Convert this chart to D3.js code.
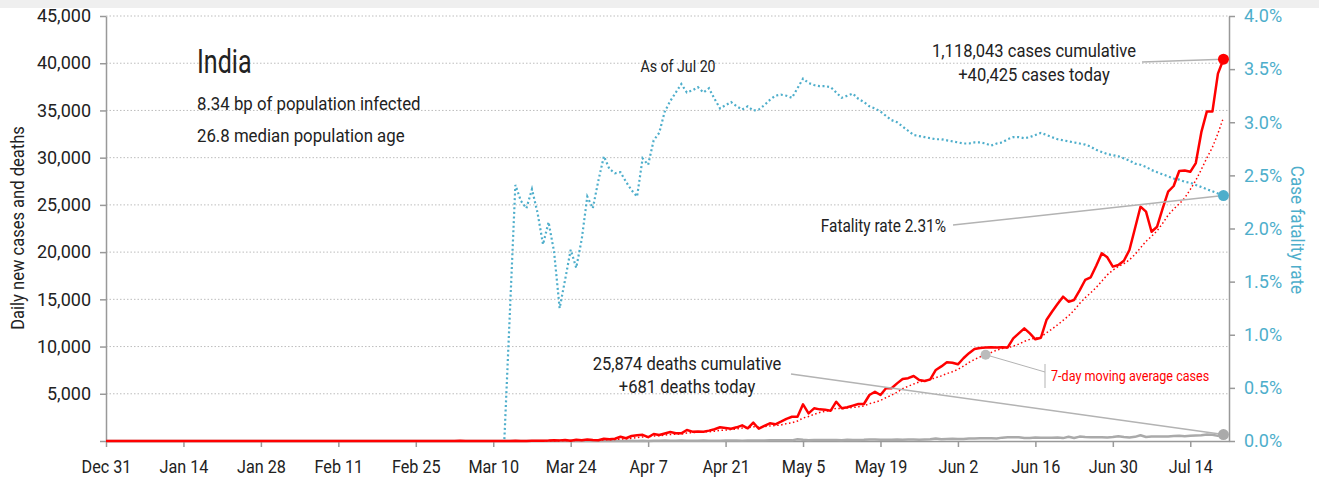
<!DOCTYPE html>
<html>
<head>
<meta charset="utf-8">
<script src="https://cdn.jsdelivr.net/npm/d3@7"></script>
<style>
  html, body { margin: 0; padding: 0; background: #fff; }
  svg text { font-family: Roboto, "Liberation Sans", sans-serif; }
</style>
</head>
<body>
<svg id="chart" width="1319" height="480"></svg>
<script>
// ---- data: India, daily series starting Dec 31, 2019 ----
const startDate = "2019-12-31";

// daily new confirmed cases
const cases = [
  0,0,0,0,0,0,0,0,0,0, 0,0,0,0,0,0,0,0,0,0, 0,0,0,0,0,0,0,0,0,0,
  1,0,0,1,1,0,0,0,0,0,
  0,0,0,0,0,0,0,0,0,0,
  0,0,0,0,0,0,0,0,0,0,
  0,0,2,1,22,2,1,3,5,4,
  1,13,6,9,20,11,6,23,14,38,
  50,86,66,103,37,121,70,160,100,80,
  230,190,240,450,290,530,600,650,400,740,
  640,800,950,830,810,1160,990,1000,990,1100,
  1250,1450,1380,1300,1450,1660,1340,1940,1300,1600,
  1870,1770,2050,2350,2570,2570,3880,2930,3460,3350,
  3300,3210,4160,3460,3570,3750,3920,3920,4870,5220,
  4870,5580,5580,6100,6560,6650,6880,6460,6350,6530,
  7520,7900,8330,8290,8120,8760,9300,9740,9850,9890,
  9920,9900,9930,9910,10870,11400,11930,11400,10770,10940,
  12810,13690,14500,15280,14750,14930,15950,17050,17330,18550,
  19870,19450,18460,18640,19090,20220,22500,24810,24280,22160,
  22690,24600,26400,27000,28590,28650,28500,29430,32700,34900,
  34880,38900,40425
];

// daily new deaths
const deaths = [
  0,0,0,0,0,0,0,0,0,0, 0,0,0,0,0,0,0,0,0,0, 0,0,0,0,0,0,0,0,0,0,
  0,0,0,0,0,0,0,0,0,0, 0,0,0,0,0,0,0,0,0,0, 0,0,0,0,0,0,0,0,0,0,
  0,0,0,0,0,0,0,0,0,0,
  0,0,1,1,0,0,0,1,0,1,
  0,1,3,2,1,1,3,4,2,6,
  3,3,3,12,12,21,13,31,12,24,
  20,40,34,35,42,27,39,20,41,35,
  36,39,41,50,49,37,56,46,59,63,
  70,73,75,72,68,193,126,89,100,102,
  115,102,111,87,135,102,100,120,153,154,
  136,140,134,147,137,149,154,145,170,175,
  269,193,224,230,203,217,259,273,286,294,
  287,266,357,394,397,386,311,325,380,350,
  341,336,375,306,445,312,465,418,407,384,
  410,380,418,507,434,379,442,613,425,467,
  482,487,475,519,551,500,553,582,606,687,
  671,543,681
];

// case fatality rate, percent
const fatalityRate = [
  0,0,0,0,0,0,0,0,0,0, 0,0,0,0,0,0,0,0,0,0, 0,0,0,0,0,0,0,0,0,0,
  0,0,0,0,0,0,0,0,0,0, 0,0,0,0,0,0,0,0,0,0, 0,0,0,0,0,0,0,0,0,0,
  0,0,0,0,0,0,0,0,0,0,
  0,0,0,1.20,2.41,2.26,2.19,2.37,2.15,1.85,
  2.06,1.78,1.25,1.52,1.80,1.63,1.90,2.30,2.19,2.45,
  2.68,2.56,2.52,2.53,2.44,2.36,2.30,2.66,2.60,2.83,
  2.90,3.10,3.20,3.28,3.36,3.28,3.30,3.33,3.28,3.32,
  3.22,3.13,3.16,3.19,3.15,3.12,3.15,3.11,3.12,3.16,
  3.21,3.25,3.26,3.25,3.23,3.32,3.41,3.37,3.35,3.34,
  3.34,3.33,3.28,3.23,3.25,3.27,3.22,3.19,3.15,3.13,
  3.10,3.06,3.02,3.00,2.96,2.92,2.88,2.87,2.86,2.85,
  2.84,2.84,2.83,2.82,2.81,2.80,2.80,2.81,2.81,2.80,
  2.78,2.80,2.81,2.84,2.86,2.86,2.85,2.86,2.88,2.90,
  2.88,2.86,2.84,2.83,2.82,2.81,2.80,2.79,2.77,2.74,
  2.72,2.70,2.69,2.68,2.66,2.64,2.61,2.60,2.58,2.55,
  2.53,2.51,2.49,2.47,2.46,2.44,2.43,2.41,2.39,2.37,
  2.35,2.33,2.31
];

const casesCumulative = 1118043;
const deathsCumulative = 25874;

const xTickDates = ["2019-12-31","2020-01-14","2020-01-28","2020-02-11","2020-02-25",
  "2020-03-10","2020-03-24","2020-04-07","2020-04-21","2020-05-05","2020-05-19",
  "2020-06-02","2020-06-16","2020-06-30","2020-07-14"];
const caseTicks = [0,5000,10000,15000,20000,25000,30000,35000,40000,45000];
const rateTicks = [0,0.5,1,1.5,2,2.5,3,3.5,4];

// ---- colours ----
const RED = "#ff0000", BLUE = "#4eaecb", GREY = "#aaaaaa", AXIS = "#999999", INK = "#222222";

const svg = d3.select("#chart");
const parse = d3.utcParse("%Y-%m-%d");
const t0 = parse(startDate);
const dates = cases.map((_, i) => d3.utcDay.offset(t0, i));
const last = cases.length - 1;

// trailing 7-day mean of daily cases
const avg7 = cases.map((_, i) => d3.mean(cases.slice(Math.max(0, i - 6), i + 1)));

const x = d3.scaleUtc().domain([t0, d3.utcDay.offset(t0, cases.length)]).range([106, 1229]);
const yC = d3.scaleLinear().domain([0, 45000]).range([441, 16]);
const yR = d3.scaleLinear().domain([0, 4]).range([441, 16]);

// top band
svg.append("rect").attr("x", 0).attr("y", 0).attr("width", 1319).attr("height", 8).attr("fill", "#efefef");

// gridlines
svg.append("g").selectAll("line").data(caseTicks.filter(d => d > 0)).join("line")
  .attr("x1", 106).attr("x2", 1229)
  .attr("y1", d => yC(d)).attr("y2", d => yC(d))
  .attr("stroke", "#bdbdbd").attr("stroke-width", 1).attr("stroke-dasharray", "1.5,2");

// axes
function styleAxis(g, color, sx) {
  g.select(".domain").attr("stroke", AXIS).attr("stroke-width", 1.5);
  g.selectAll(".tick line").attr("stroke", AXIS).attr("stroke-width", 1.5);
  g.selectAll(".tick text").attr("fill", color).attr("font-size", 18)
    .attr("font-family", "Roboto, 'Liberation Sans', sans-serif")
    .attr("transform", `scale(${sx},1)`);
}
const fmt = d3.format(",");
svg.append("g").attr("transform", "translate(106,0)")
  .call(d3.axisLeft(yC).tickValues(caseTicks).tickSize(6).tickSizeOuter(0).tickPadding(9)
    .tickFormat(d => d === 0 ? "" : fmt(d)))
  .call(g => styleAxis(g, INK, 1));
svg.append("g").attr("transform", "translate(1229,0)")
  .call(d3.axisRight(yR).tickValues(rateTicks).tickSize(6).tickSizeOuter(0).tickPadding(9)
    .tickFormat(d => d.toFixed(1) + "%"))
  .call(g => styleAxis(g, BLUE, 1));
const fmtDate = d3.utcFormat("%b %-d");
svg.append("g").attr("transform", "translate(0,441)")
  .call(d3.axisBottom(x).tickValues(xTickDates.map(parse)).tickSize(6).tickSizeOuter(0).tickPadding(13)
    .tickFormat(fmtDate))
  .call(g => styleAxis(g, INK, 0.9));

// series
const lineFor = (arr, y) => d3.line().x((d, i) => x(dates[i])).y(d => y(d))(arr);

svg.append("path").attr("d", lineFor(fatalityRate, yR))
  .attr("fill", "none").attr("stroke", BLUE).attr("stroke-width", 2.2)
  .attr("stroke-dasharray", "2,2.6");
svg.append("path").attr("d", lineFor(deaths, yC))
  .attr("fill", "none").attr("stroke", GREY).attr("stroke-width", 2.5).attr("stroke-linejoin", "round");
svg.append("path").attr("d", lineFor(avg7, yC))
  .attr("fill", "none").attr("stroke", RED).attr("stroke-width", 1.5)
  .attr("stroke-dasharray", "1.5,2.5");
svg.append("path").attr("d", lineFor(cases, yC))
  .attr("fill", "none").attr("stroke", RED).attr("stroke-width", 2.5).attr("stroke-linejoin", "round");

// text helper
function label(px, py, str, opt = {}) {
  const t = svg.append("text")
    .attr("transform", `translate(${px},${py}) rotate(${opt.rotate || 0}) scale(${opt.sx || 1},1)`)
    .attr("text-anchor", opt.anchor || "start")
    .attr("font-size", opt.size || 18)
    .attr("fill", opt.fill || INK)
    .text(str);
  return t;
}

// leader lines and end markers
const xe = x(dates[last]);
const leader = (x1, y1, x2, y2, w = 1.5) => svg.append("line")
  .attr("x1", x1).attr("y1", y1).attr("x2", x2).attr("y2", y2)
  .attr("stroke", "#b3b3b3").attr("stroke-width", w);

leader(1142, 62, xe, yC(cases[last]));
leader(953, 225, xe, yR(fatalityRate[last]));
leader(791, 374, xe, yC(deaths[last]));

const maIdx = 159;
const maX = x(dates[maIdx]), maY = yC(avg7[maIdx]);
leader(maX, maY, 1045, 372, 1);
leader(1045, 364, 1045, 388, 1);

svg.append("circle").attr("cx", maX).attr("cy", maY).attr("r", 5).attr("fill", "#bbbbbb");
svg.append("circle").attr("cx", xe).attr("cy", yC(cases[last])).attr("r", 5.5).attr("fill", RED);
svg.append("circle").attr("cx", xe).attr("cy", yR(fatalityRate[last])).attr("r", 5.5).attr("fill", BLUE);
svg.append("circle").attr("cx", xe).attr("cy", yC(deaths[last])).attr("r", 5.5).attr("fill", GREY);

// titles and notes
label(197, 73, "India", { size: 33, sx: 0.76 });
label(197, 110, "8.34 bp of population infected", { size: 17.5, sx: 0.96 });
label(197, 142, "26.8 median population age", { size: 17.5, sx: 0.96 });
label(678, 72, "As of " + fmtDate(dates[last]), { size: 16.5, sx: 0.86, anchor: "middle" });

label(1034, 57, fmt(casesCumulative) + " cases cumulative", { size: 18, sx: 0.92, anchor: "middle" });
label(1034, 81, "+" + fmt(cases[last]) + " cases today", { size: 18, sx: 0.92, anchor: "middle" });
label(946, 232, "Fatality rate " + fatalityRate[last].toFixed(2) + "%", { size: 17.5, sx: 0.88, anchor: "end" });
label(687, 370, fmt(deathsCumulative) + " deaths cumulative", { size: 18, sx: 0.92, anchor: "middle" });
label(687, 393, "+" + fmt(deaths[last]) + " deaths today", { size: 18, sx: 0.92, anchor: "middle" });
label(1051, 381, "7-day moving average cases", { size: 15, sx: 0.84, fill: RED });

label(24, 228, "Daily new cases and deaths", { size: 18, sx: 0.92, rotate: -90, anchor: "middle" });
label(1291, 230, "Case fatality rate", { size: 18, sx: 0.95, rotate: 90, anchor: "middle", fill: BLUE });
</script>
</body>
</html>
